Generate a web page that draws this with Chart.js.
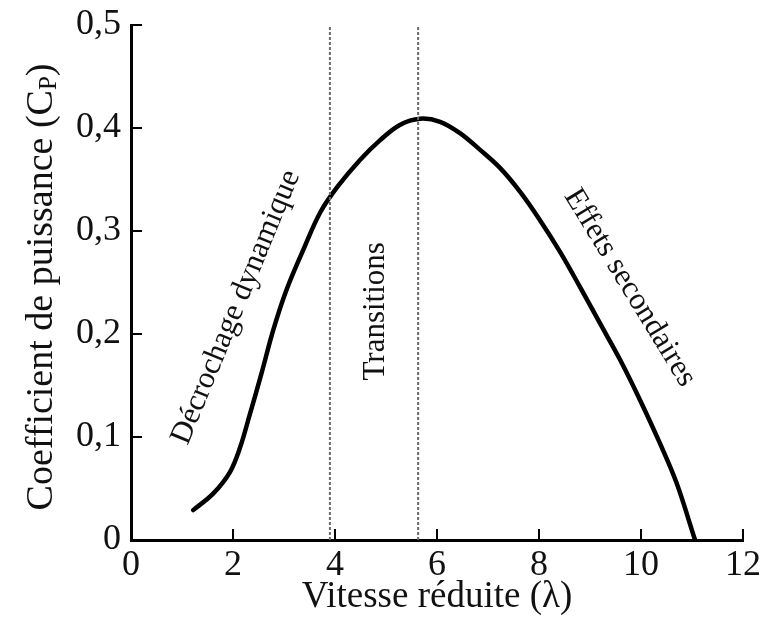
<!DOCTYPE html>
<html lang="fr">
<head>
<meta charset="utf-8">
<title>Coefficient de puissance</title>
<script src="https://cdn.jsdelivr.net/npm/chart.js@4.4.1/dist/chart.umd.min.js"></script>
<style>
  html, body { margin: 0; padding: 0; background: #fff; }
  #wrap { width: 763px; height: 619px; position: relative; }
</style>
</head>
<body>
<div id="wrap"><canvas id="chart"></canvas></div>
<script>
// Courbe Cp(λ)
const lambda = [1.22, 1.61, 1.94, 2.14, 2.33, 2.56, 2.79, 3.05, 3.38, 3.71, 4.05, 4.49, 4.88, 5.27, 5.67, 6.06, 6.45, 6.84, 7.24, 7.63, 8.0, 8.41, 8.8, 9.2, 9.59, 9.98, 10.37, 10.7, 11.06];
const cp = [0.029, 0.045, 0.066, 0.09, 0.122, 0.162, 0.204, 0.243, 0.282, 0.318, 0.343, 0.369, 0.388, 0.403, 0.409, 0.406, 0.395, 0.379, 0.361, 0.338, 0.312, 0.28, 0.246, 0.21, 0.175, 0.136, 0.094, 0.055, 0.0];

// Limites des zones (traits pointillés)
const zoneLimits = [3.9, 5.63];

// Graduations
const xTicks = [0, 2, 4, 6, 8, 10, 12];
const yTicks = [0, 0.1, 0.2, 0.3, 0.4, 0.5];

// Étiquettes des zones : texte, position (λ, Cp), angle en degrés
const zoneLabels = ['Décrochage dynamique', 'Transitions', 'Effets secondaires'];
const zoneLabelX = [2.06, 4.8, 9.78];
const zoneLabelY = [0.226, 0.222, 0.245];
const zoneLabelAngle = [-67.5, -90, 58.5];

const SERIF = '"Liberation Serif", "DejaVu Serif", serif';
const INK = '#111';

const fmt = v => String(Math.round(v * 10) / 10).replace('.', ',');

// Graduations tournées vers l'intérieur + titres + annotations
const decorPlugin = {
    id: 'decor',
    afterDatasetsDraw(chart) {
        const { ctx, chartArea: a, scales: { x, y } } = chart;
        ctx.save();

        // graduations intérieures
        ctx.strokeStyle = '#000';
        ctx.lineWidth = 2;
        ctx.beginPath();
        xTicks.forEach(v => {
            const px = x.getPixelForValue(v);
            ctx.moveTo(px, a.bottom);
            ctx.lineTo(px, a.bottom - 11);
        });
        yTicks.forEach(v => {
            const py = y.getPixelForValue(v);
            ctx.moveTo(a.left, py);
            ctx.lineTo(a.left + 11, py);
        });
        ctx.stroke();

        // annotations des zones
        ctx.fillStyle = INK;
        ctx.textAlign = 'center';
        ctx.textBaseline = 'middle';
        ctx.font = '31px ' + SERIF;
        zoneLabels.forEach((t, i) => {
            ctx.save();
            ctx.translate(x.getPixelForValue(zoneLabelX[i]), y.getPixelForValue(zoneLabelY[i]));
            ctx.rotate(zoneLabelAngle[i] * Math.PI / 180);
            ctx.fillText(t, 0, 0);
            ctx.restore();
        });

        // titre de l'axe x
        ctx.font = '37px ' + SERIF;
        ctx.textBaseline = 'alphabetic';
        ctx.fillText('Vitesse réduite (λ)', 437, 607);

        // titre de l'axe y, avec indice P
        const main = 'Coefficient de puissance (C';
        const sub = 'P';
        const close = ')';
        ctx.font = '38px ' + SERIF;
        const wMain = ctx.measureText(main).width;
        const wClose = ctx.measureText(close).width;
        ctx.font = '25px ' + SERIF;
        const wSub = ctx.measureText(sub).width;
        const total = wMain + wSub + wClose;
        ctx.save();
        ctx.translate(52, 287);
        ctx.rotate(-Math.PI / 2);
        ctx.textAlign = 'left';
        let cx = -total / 2;
        ctx.font = '38px ' + SERIF;
        ctx.fillText(main, cx, 0);
        cx += wMain;
        ctx.font = '25px ' + SERIF;
        ctx.fillText(sub, cx, 4);
        cx += wSub;
        ctx.font = '38px ' + SERIF;
        ctx.fillText(close, cx, 0);
        ctx.restore();

        ctx.restore();
    },
};

const limitDatasets = zoneLimits.map(v => ({
    data: [{ x: v, y: 0 }, { x: v, y: 0.5 }],
    borderColor: '#6a6a6a',
    borderWidth: 2,
    borderDash: [3, 2],
    pointRadius: 0,
    showLine: true,
    fill: false,
}));

new Chart(document.getElementById('chart'), {
    type: 'scatter',
    data: {
        datasets: [
            ...limitDatasets,
            {
                data: lambda.map((l, i) => ({ x: l, y: cp[i] })),
                borderColor: '#000',
                borderWidth: 4.5,
                pointRadius: 0,
                showLine: true,
                tension: 0.35,
                borderCapStyle: 'round',
                borderJoinStyle: 'round',
                fill: false,
            },
        ],
    },
    options: {
        responsive: true,
        maintainAspectRatio: false,
        animation: false,
        layout: { padding: { top: 25, right: 20, left: 0, bottom: 0 } },
        plugins: {
            legend: { display: false },
            tooltip: { enabled: false },
        },
        scales: {
            x: {
                type: 'linear',
                min: 0,
                max: 12,
                afterBuildTicks: s => { s.ticks = xTicks.map(v => ({ value: v })); },
                afterFit: s => { s.height = 79; s.paddingRight = 0; s.paddingLeft = 0; },
                grid: { display: false, drawTicks: false },
                border: { display: true, color: '#000', width: 3 },
                ticks: {
                    padding: 4,
                    color: INK,
                    font: { family: SERIF, size: 36 },
                    maxRotation: 0,
                    callback: v => fmt(v),
                },
            },
            y: {
                type: 'linear',
                min: 0,
                max: 0.5,
                afterBuildTicks: s => { s.ticks = yTicks.map(v => ({ value: v })); },
                afterFit: s => { s.width = 131; s.paddingTop = 0; s.paddingBottom = 0; },
                grid: { display: false, drawTicks: false },
                border: { display: true, color: '#000', width: 3 },
                ticks: {
                    padding: 10,
                    color: INK,
                    font: { family: SERIF, size: 36 },
                    callback: v => fmt(v),
                },
            },
        },
    },
    plugins: [decorPlugin],
});
</script>
</body>
</html>
